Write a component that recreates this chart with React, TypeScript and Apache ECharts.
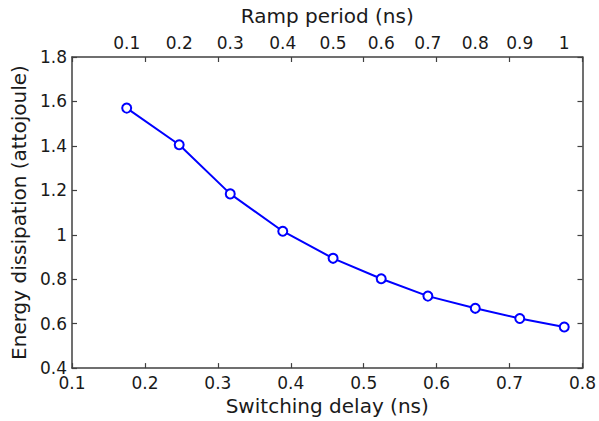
import React, { useEffect, useRef } from "react";
import * as echarts from "echarts";

const switchingDelay = [0.175, 0.247, 0.317, 0.389, 0.458, 0.524, 0.588, 0.653, 0.714, 0.775];
const energy = [1.57, 1.405, 1.184, 1.016, 0.894, 0.802, 0.724, 0.669, 0.623, 0.585];
const rampPeriod = ["0.1", "0.2", "0.3", "0.4", "0.5", "0.6", "0.7", "0.8", "0.9", "1"];

const FONT = "DejaVu Sans";

export default function App() {
  const ref = useRef<HTMLDivElement>(null);
  useEffect(() => {
    if (!ref.current) return;
    const chart = echarts.init(ref.current, null, { renderer: "svg" });
    const axisLine = { show: true, lineStyle: { color: "#404040", width: 1.5 } };
    const tick = { show: true, inside: true, length: 5, lineStyle: { color: "#404040", width: 1.2 } };
    const label = { color: "#1a1a1a", fontFamily: FONT, fontSize: 17 };
    const nameStyle = { color: "#1a1a1a", fontFamily: FONT, fontSize: 20 };
    chart.setOption({
      animation: false,
      backgroundColor: "#ffffff",
      grid: { left: 72, right: 15, top: 57, bottom: 52, containLabel: false },
      xAxis: [
        {
          type: "value",
          position: "bottom",
          min: 0.1,
          max: 0.8,
          interval: 0.1,
          name: "Switching delay (ns)",
          nameLocation: "middle",
          nameGap: 27,
          nameTextStyle: nameStyle,
          axisLine,
          axisTick: tick,
          axisLabel: { ...label, margin: 6 },
          splitLine: { show: false },
        },
        {
          type: "value",
          position: "top",
          min: 0.1,
          max: 0.8,
          interval: 0.1,
          name: "Ramp period (ns)",
          nameLocation: "middle",
          nameGap: 31,
          nameTextStyle: nameStyle,
          axisLine,
          axisTick: tick,
          axisLabel: {
            ...label,
            margin: 6,
            showMinLabel: true,
            showMaxLabel: true,
            customValues: switchingDelay,
            formatter: (v: number) => {
              let best = 0;
              for (let i = 0; i < switchingDelay.length; i++) {
                if (Math.abs(switchingDelay[i] - v) < Math.abs(switchingDelay[best] - v)) best = i;
              }
              return rampPeriod[best];
            },
          },
          splitLine: { show: false },
        },
      ],
      yAxis: [
        {
          type: "value",
          position: "left",
          min: 0.4,
          max: 1.8,
          interval: 0.2,
          name: "Energy dissipation (attojoule)",
          nameLocation: "middle",
          nameGap: 36,
          nameTextStyle: nameStyle,
          axisLine,
          axisTick: tick,
          axisLabel: { ...label, margin: 5 },
          splitLine: { show: false },
        },
        {
          type: "value",
          position: "right",
          min: 0.4,
          max: 1.8,
          interval: 0.2,
          axisLine,
          axisTick: tick,
          axisLabel: { show: false },
          splitLine: { show: false },
        },
      ],
      series: [
        {
          type: "line",
          xAxisIndex: 0,
          yAxisIndex: 0,
          data: switchingDelay.map((x, i) => [x, energy[i]]),
          smooth: false,
          symbol: "emptyCircle",
          symbolSize: 9,
          lineStyle: { color: "#0000ff", width: 2 },
          itemStyle: { color: "#0000ff", borderColor: "#0000ff", borderWidth: 2 },
        },
      ],
    });
    return () => chart.dispose();
  }, []);
  return (
    <div
      ref={ref}
      style={{ position: "fixed", left: 0, top: 0, width: 599, height: 421 }}
    />
  );
}
